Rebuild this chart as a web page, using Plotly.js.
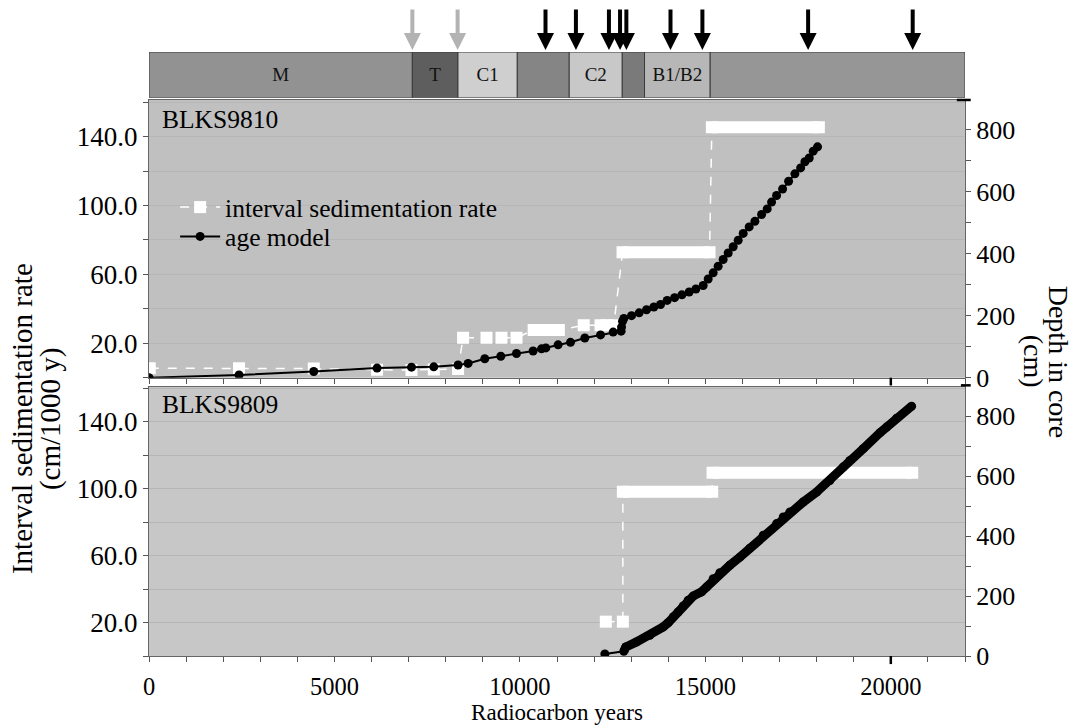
<!DOCTYPE html>
<html>
<head>
<meta charset="utf-8">
<script src="https://cdn.plot.ly/plotly-3.0.1.min.js"></script>
<style>
html,body{margin:0;padding:0;background:#ffffff;}
#chart{width:1078px;height:725px;}
</style>
</head>
<body>
<div id="chart"></div>
<script>
// ---------------- DATA ----------------
// Zone band (radiocarbon years)
const bandStart = [0, 7100, 8330, 9930, 11330, 12760, 13360, 15130];
const bandEnd   = [7100, 8330, 9930, 11330, 12760, 13360, 15130, 22000];
const bandLabel = ['M', 'T', 'C1', '', 'C2', '', 'B1/B2', ''];

// Arrows above the band (radiocarbon years)
const arrowGrayAge  = [7100, 8320];
const arrowBlackAge = [10690, 11510, 12400, 12700, 12870, 14060, 14920, 17770, 20590];

// BLKS9810 age model (age, depth in cm)
const ageTop = [0,2427,4442,6149,7077,7678,8333,8603,9053,9485,9908,10356,10583,10699,11030,11364,11750,12174,12514,12729,12740,12767,12802,13009,13215,13414,13611,13792,13970,14170,14367,14563,14744,14941,15076,15211,15345,15480,15615,15750,15885,16020,16181,16335,16516,16667,16785,16920,17082,17244,17414,17568,17684,17800,17908,18025];
const depthTop = [0,9,20,31,34,35,41,46,61,69,78,86,93,96,106,114,128,138,147,150,163,182,191,200,209,219,228,236,249,258,267,276,286,297,318,338,359,381,402,422,443,465,486,504,526,544,566,587,608,633,657,676,696,708,730,744];

// BLKS9810 interval sedimentation rate (interval start age, end age, rate cm/1000 y)
const rateTopStart = [20, 2427, 4442, 6149, 7077, 7678, 8333, 8468, 9099, 9503, 9908, 10370, 11720, 12174, 12767, 15175];
const rateTopEnd   = [20, 2427, 4442, 6149, 7077, 7678, 8333, 8468, 9099, 9503, 9908, 11050, 11720, 12530, 15113, 18060];
const rateTopValue = [5.5, 5.5, 5.3, 4.6, 4.4, 4.8, 5.0, 23.2, 23.2, 23.2, 23.2, 27.7, 30.4, 30.4, 72.8, 145.4];

// BLKS9809 age model
const ageBot = [12290,12802,12856,13144,13503,13862,13997,14132,14266,14401,14536,14671,14897,15032,15211,15391,15661,15931,16200,16560,16920,17100,17279,17638,17998,18358,18717,18897,19256,19706,19886,20156,20561];
const depthBot = [7,16,30,47,69,97,111,130,147,167,186,200,214,230,258,278,303,330,360,403,442,464,481,514,547,586,631,653,692,745,764,794,834];

// BLKS9809 interval sedimentation rate
const rateBotStart = [12316, 12775, 12775, 15194];
const rateBotEnd   = [12316, 12775, 15184, 20577];
const rateBotValue = [20.5, 20.5, 98.1, 109.4];

// Tick steps
const xTickStep = 5000, xMinorStep = 1000, xBoldTick = 20000;
const rateTickStart = 20, rateTickStep = 40, rateMinorStep = 20;
const depthTickStep = 200, depthMinorStep = 100;

// ---------------- STYLE ----------------
const FONT = 'Liberation Serif, Times New Roman, serif';
const bandColors = ['#929292', '#5e5e5e', '#cfcfcf', '#858585', '#c8c8c8', '#7a7a7a', '#b7b7b7', '#969696'];

function rateMarkers(starts, ends, vals) {
  const x = [], y = [];
  starts.forEach((s, i) => {
    x.push(s); y.push(vals[i]);
    if (ends[i] !== s) { x.push(ends[i]); y.push(vals[i]); }
  });
  return {x, y};
}
function rateBars(starts, ends, vals) {
  const x = [], y = [];
  starts.forEach((s, i) => {
    if (ends[i] > s) { x.push(s, ends[i], null); y.push(vals[i], vals[i], null); }
  });
  return {x, y};
}
function arrowShafts(ages) {
  const x = [], y = [];
  ages.forEach(a => { x.push(a, a, null); y.push(0.33, 0.9, null); });
  return {x, y};
}

const rmTop = rateMarkers(rateTopStart, rateTopEnd, rateTopValue);
const rbTop = rateBars(rateTopStart, rateTopEnd, rateTopValue);
const rmBot = rateMarkers(rateBotStart, rateBotEnd, rateBotValue);
const rbBot = rateBars(rateBotStart, rateBotEnd, rateBotValue);
const shGray = arrowShafts(arrowGrayAge);
const shBlack = arrowShafts(arrowBlackAge);

const traces = [
  // band
  {type:'bar', orientation:'h', base: bandStart, x: bandEnd.map((e,i)=>e-bandStart[i]),
   y: bandStart.map(()=>0), width: 1, xaxis:'x2', yaxis:'y5',
   marker:{color: bandColors, line:{color:'#3a3a3a', width:1}},
   text: bandLabel, textposition:'inside', insidetextanchor:'middle', constraintext:'none',
   textangle: 0, textfont:{family: FONT, size:19, color:'#111'}, showlegend:false, hoverinfo:'skip'},
  // arrows
  {type:'scatter', mode:'lines', x: shGray.x, y: shGray.y, xaxis:'x2', yaxis:'y6',
   line:{color:'#b3b3b3', width:4}, showlegend:false, hoverinfo:'skip'},
  {type:'scatter', mode:'markers', x: arrowGrayAge, y: arrowGrayAge.map(()=>0), xaxis:'x2', yaxis:'y6',
   marker:{symbol:'arrow-down', size:17, color:'#b3b3b3', line:{width:0}}, showlegend:false, hoverinfo:'skip', cliponaxis:false},
  {type:'scatter', mode:'lines', x: shBlack.x, y: shBlack.y, xaxis:'x2', yaxis:'y6',
   line:{color:'#000', width:4}, showlegend:false, hoverinfo:'skip'},
  {type:'scatter', mode:'markers', x: arrowBlackAge, y: arrowBlackAge.map(()=>0), xaxis:'x2', yaxis:'y6',
   marker:{symbol:'arrow-down', size:17, color:'#000', line:{width:0}}, showlegend:false, hoverinfo:'skip', cliponaxis:false},

  // top panel: rate
  {type:'scatter', mode:'lines', x: rbTop.x, y: rbTop.y, xaxis:'x2', yaxis:'y3',
   line:{color:'#ffffff', width:12}, showlegend:false, hoverinfo:'skip', connectgaps:false},
  {type:'scatter', mode:'lines+markers', name:'interval sedimentation rate', legend:'legend', x: rmTop.x, y: rmTop.y, xaxis:'x2', yaxis:'y3',
   line:{color:'#ffffff', width:1.5, dash:'dash'}, marker:{symbol:'square', size:12, color:'#ffffff'}, hoverinfo:'skip'},
  // top panel: age model
  {type:'scatter', mode:'lines+markers', name:'age model', legend:'legend2', x: ageTop, y: depthTop, xaxis:'x2', yaxis:'y4',
   line:{color:'#000', width:2}, marker:{symbol:'circle', size:9, color:'#000'}, hoverinfo:'skip'},

  // bottom panel: rate
  {type:'scatter', mode:'lines', x: rbBot.x, y: rbBot.y, xaxis:'x', yaxis:'y',
   line:{color:'#ffffff', width:12}, showlegend:false, hoverinfo:'skip', connectgaps:false},
  {type:'scatter', mode:'lines+markers', x: rmBot.x, y: rmBot.y, xaxis:'x', yaxis:'y',
   line:{color:'#ffffff', width:1.5, dash:'dash'}, marker:{symbol:'square', size:12, color:'#ffffff'}, showlegend:false, hoverinfo:'skip'},
  // bottom panel: age model
  {type:'scatter', mode:'lines+markers', x: ageBot, y: depthBot, xaxis:'x', yaxis:'y2',
   line:{color:'#000', width:2}, marker:{symbol:'circle', size:9, color:'#000'}, showlegend:false, hoverinfo:'skip'},
  {type:'scatter', mode:'lines', x: ageBot.slice(1), y: depthBot.slice(1), xaxis:'x', yaxis:'y2',
   line:{color:'#000', width:9}, showlegend:false, hoverinfo:'skip'}
];

const axisCommon = {
  showline:true, linecolor:'#666', linewidth:1, ticks:'outside', ticklen:5, tickwidth:1, tickcolor:'#555',
  tickfont:{family: FONT, size:26, color:'#000'}, zeroline:false, fixedrange:true
};

const xCommon = Object.assign({}, axisCommon, {
  range:[0, 22000], tick0:0, dtick:xTickStep, tickformat:'d', showgrid:false,
  minor:{dtick:xMinorStep, tick0:0, ticks:'outside', ticklen:5, tickcolor:'#555', showgrid:false},
  tickfont:{family: FONT, size:24.5, color:'#000'}, mirror:true
});

const rateAxis = (domain, range, anchor) => Object.assign({}, axisCommon, {
  domain, range, anchor, tick0:rateTickStart, dtick:rateTickStep, tickformat:'.1f',
  showgrid:true, gridcolor:'#b6b6b6', gridwidth:1,
  minor:{dtick:rateMinorStep, tick0:0, ticks:'outside', ticklen:5, tickcolor:'#555', showgrid:true, gridcolor:'#b6b6b6'},
  tickfont:{family: FONT, size:27, color:'#000'}
});
const depthAxis = (overlaying, range, anchor) => Object.assign({}, axisCommon, {
  overlaying, range, anchor, side:'right', tick0:0, dtick:depthTickStep, showgrid:false,
  minor:{dtick:depthMinorStep, tick0:0, ticks:'outside', ticklen:5, tickcolor:'#555', showgrid:false},
  tickfont:{family: FONT, size:26, color:'#000'}
});

const legendCommon = {xanchor:'left', yanchor:'top', bgcolor:'rgba(0,0,0,0)',
  font:{family: FONT, size:25.5, color:'#000'}, itemwidth:40, tracegroupgap:0};

// bold tick marks at 20000 and short heavy marks at the right-axis tops
const boldMarks = [
  {type:'line', xref:'x', yref:'y domain', x0:xBoldTick, x1:xBoldTick, y0:0, y1:-0.03, line:{color:'#000', width:2.5}},
  {type:'line', xref:'x2', yref:'y3 domain', x0:xBoldTick, x1:xBoldTick, y0:0, y1:-0.028, line:{color:'#000', width:2.5}},
  {type:'line', xref:'x2 domain', yref:'y3 domain', x0:0.99, x1:1.007, y0:1, y1:1, line:{color:'#000', width:2.5}},
  {type:'line', xref:'x domain', yref:'y domain', x0:0.995, x1:1.007, y0:1.005, y1:1.005, line:{color:'#000', width:2.5}}
];

const layout = {
  width:1078, height:725,
  margin:{l:149, r:113, t:5, b:69},
  paper_bgcolor:'#ffffff', plot_bgcolor:'rgba(0,0,0,0)',
  font:{family: FONT, color:'#000'},
  hovermode:false, bargap:0,
  xaxis: Object.assign({}, xCommon, {anchor:'y', domain:[0,1],
    title:{text:'Radiocarbon years', font:{family: FONT, size:23}, standoff:9}, ticklabelstandoff:4}),
  xaxis2: Object.assign({}, xCommon, {anchor:'y3', matches:'x', showticklabels:false}),
  yaxis: rateAxis([0, 0.4137], [0, 160.8], 'x'),
  yaxis2: depthAxis('y', [0, 899], 'x'),
  yaxis3: rateAxis([0.4275, 0.8541], [0, 161.3], 'x2'),
  yaxis4: depthAxis('y3', [0, 895], 'x2'),
  yaxis5: {domain:[0.8576, 0.9278], range:[-0.5, 0.5], anchor:'x2', visible:false, fixedrange:true},
  yaxis6: {domain:[0.9309, 1], range:[0, 1], anchor:'x2', visible:false, fixedrange:true},
  showlegend:true,
  legend: Object.assign({}, legendCommon, {x:0.032, y:0.725}),
  legend2: Object.assign({}, legendCommon, {x:0.032, y:0.680}),
  shapes:[
    {type:'rect', xref:'x2 domain', yref:'y3 domain', x0:0, x1:1, y0:0, y1:1, fillcolor:'#c0c0c0', line:{width:0}, layer:'below'},
    {type:'rect', xref:'x domain', yref:'y domain', x0:0, x1:1, y0:0, y1:1, fillcolor:'#c7c7c7', line:{width:0}, layer:'below'}
  ].concat(boldMarks),
  annotations:[
    {text:'BLKS9810', xref:'x2 domain', yref:'y3 domain', x:0.013, y:0.93, xanchor:'left', yanchor:'middle',
     showarrow:false, font:{family: FONT, size:25.5, color:'#000'}},
    {text:'BLKS9809', xref:'x domain', yref:'y domain', x:0.013, y:0.932, xanchor:'left', yanchor:'middle',
     showarrow:false, font:{family: FONT, size:25.5, color:'#000'}},
    {text:'Interval sedimentation rate', xref:'paper', yref:'paper', x:-0.1556, y:0.364,
     xanchor:'center', yanchor:'middle', textangle:-90, showarrow:false, font:{family: FONT, size:29, color:'#000'}},
    {text:'(cm/1000 y)', xref:'paper', yref:'paper', x:-0.1213, y:0.364,
     xanchor:'center', yanchor:'middle', textangle:-90, showarrow:false, font:{family: FONT, size:29, color:'#000'}},
    {text:'Depth in core', xref:'paper', yref:'paper', x:1.114, y:0.452,
     xanchor:'center', yanchor:'middle', textangle:90, showarrow:false, font:{family: FONT, size:28, color:'#000'}},
    {text:'(cm)', xref:'paper', yref:'paper', x:1.0833, y:0.452,
     xanchor:'center', yanchor:'middle', textangle:90, showarrow:false, font:{family: FONT, size:28, color:'#000'}}
  ]
};

Plotly.newPlot('chart', traces, layout, {displayModeBar:false, staticPlot:true});
</script>
</body>
</html>
